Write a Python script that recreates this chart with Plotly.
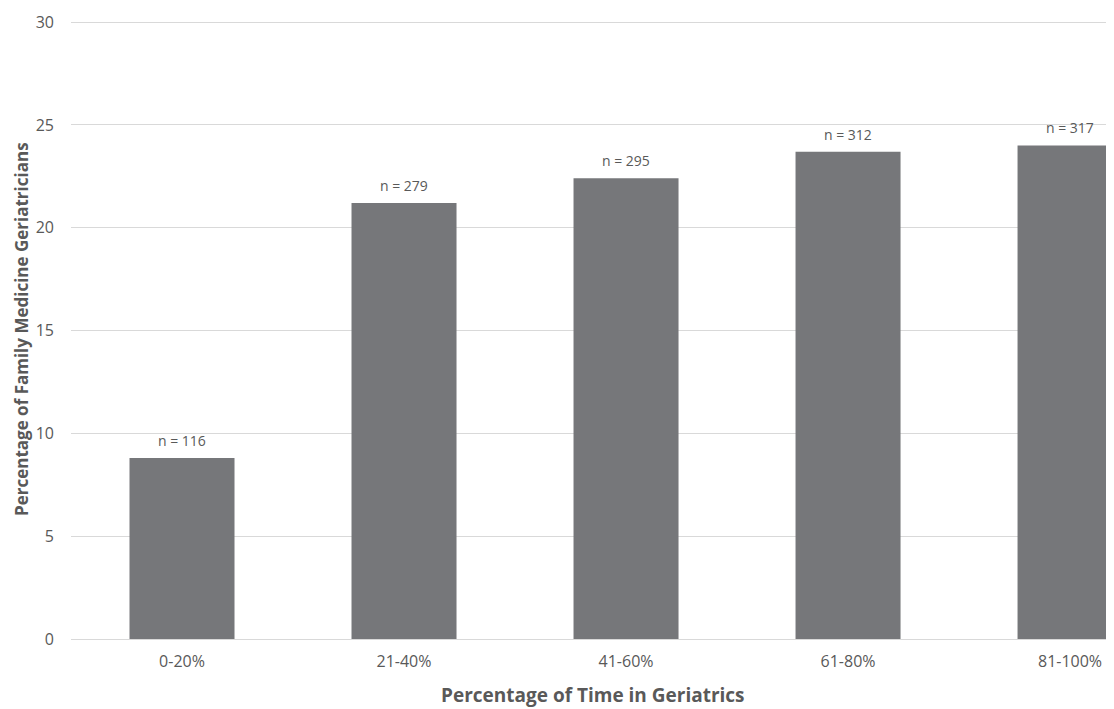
import plotly.graph_objects as go

categories = ["0-20%", "21-40%", "41-60%", "61-80%", "81-100%"]
percentages = [8.8, 21.2, 22.4, 23.7, 24.0]
counts = [116, 279, 295, 312, 317]
y_ticks = [0, 5, 10, 15, 20, 25, 30]

labels = [f"n = {c}" for c in counts]
xpos = list(range(len(categories)))

FONT = "Open Sans, Lato, DejaVu Sans, sans-serif"
GREY = "#595959"

fig = go.Figure(
    go.Bar(
        x=xpos,
        y=percentages,
        marker=dict(color="#76777a", line=dict(width=0)),
        width=0.473,
        hoverinfo="y",
    )
)

# data labels above bars
for xi, yi, lab in zip(xpos, percentages, labels):
    fig.add_annotation(
        x=xi, y=yi, xref="x", yref="y", text=lab, showarrow=False,
        yanchor="bottom", yshift=6,
        font=dict(family=FONT, size=14, color=GREY),
    )

# axis titles
fig.add_annotation(
    x=0.5, y=0, xref="paper", yref="paper",
    text="<b>Percentage of Time in Geriatrics</b>", showarrow=False,
    xanchor="center", yanchor="middle", yshift=-56,
    font=dict(family=FONT, size=19, color=GREY),
)
fig.add_annotation(
    x=0, y=0.5, xref="paper", yref="paper",
    text="<b>Percentage of Family Medicine Geriatricians</b>", showarrow=False,
    xanchor="center", yanchor="middle", xshift=-50, textangle=-90,
    font=dict(family=FONT, size=17, color=GREY),
)

fig.update_layout(
    width=1106,
    height=701,
    margin=dict(l=63, r=0, t=11, b=70),
    paper_bgcolor="white",
    plot_bgcolor="white",
    showlegend=False,
    font=dict(family=FONT, color=GREY),
)

fig.update_xaxes(
    tickmode="array",
    tickvals=xpos,
    ticktext=categories,
    range=[-0.5, 4.198],
    showgrid=False,
    showline=False,
    zeroline=False,
    ticks="",
    ticklabelstandoff=11,
    tickfont=dict(size=16, color=GREY),
)

fig.update_yaxes(
    range=[0, 30.15],
    tickmode="array",
    tickvals=y_ticks,
    showgrid=True,
    gridcolor="#d9d9d9",
    gridwidth=1,
    zeroline=True,
    zerolinecolor="#d9d9d9",
    zerolinewidth=1,
    showline=False,
    ticks="",
    ticklabelstandoff=16,
    tickfont=dict(size=16, color=GREY),
)

fig.write_html("out.html")
